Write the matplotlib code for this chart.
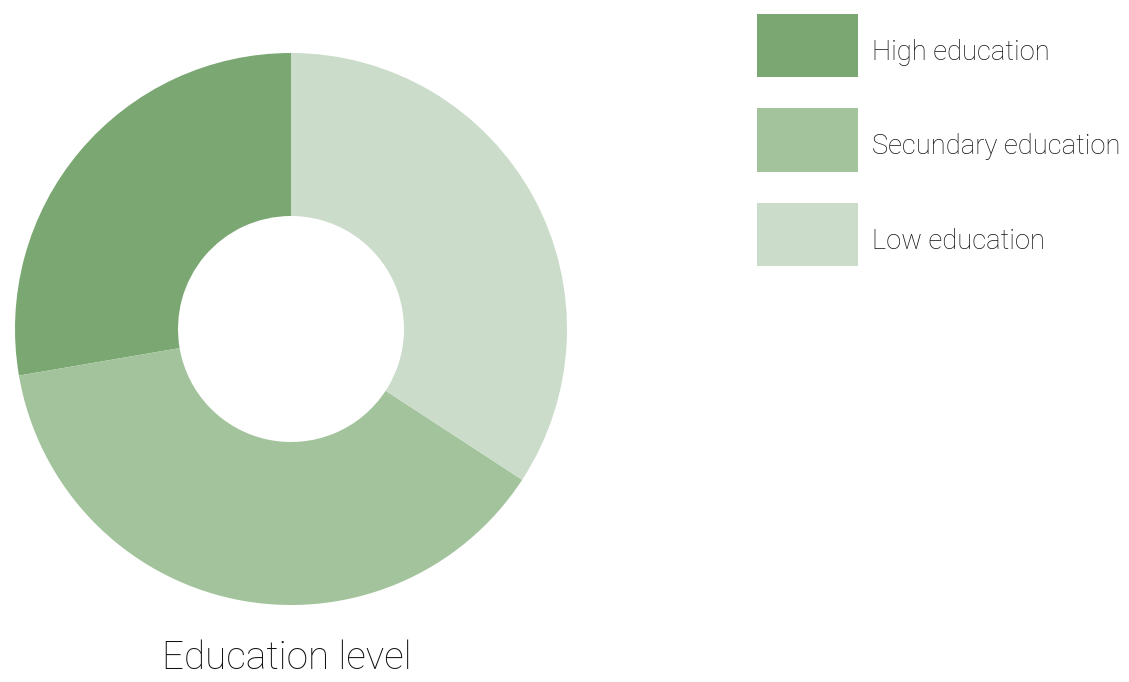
import matplotlib
matplotlib.use("Agg")
import matplotlib.pyplot as plt
from matplotlib.patches import Rectangle

plt.rcParams.update({
    "font.family": ["Roboto", "DejaVu Sans"],
})

labels = ["High education", "Secundary education", "Low education"]
shares = [27.7, 38.1, 34.2]
colors = ["#7ba772", "#a2c39c", "#cbdcca"]
title = "Education level"

W, H = 1129, 682
fig = plt.figure(figsize=(W / 100, H / 100), dpi=100)

# donut: centre (291, 329) px, outer radius 276 px
cx, cy, R = 291, 329, 276
ax = fig.add_axes([(cx - R) / W, (H - cy - R) / H, 2 * R / W, 2 * R / H])
ax.pie(shares, colors=colors, startangle=90, counterclock=True,
       radius=1, wedgeprops=dict(width=1 - 113 / 276, linewidth=0))
ax.set_xlim(-1, 1)
ax.set_ylim(-1, 1)
ax.set_aspect("equal")
ax.axis("off")

fig.text(287 / W, 1 - 658 / H, title, ha="center", va="center",
         fontsize=27.8, color="#111111", fontweight="light")

# legend boxes
for i, (lab, col) in enumerate(zip(labels, colors)):
    top = 14 + i * 94.5
    fig.patches.append(Rectangle((757 / W, 1 - (top + 63) / H), 101 / W, 63 / H,
                                 transform=fig.transFigure, facecolor=col,
                                 edgecolor="none"))
    fig.text(872 / W, 1 - (top + 38.5) / H, lab, ha="left", va="center",
             fontsize=19.7, color="#111111", fontweight="light")

fig.savefig("out.png", dpi=100, facecolor="white")
